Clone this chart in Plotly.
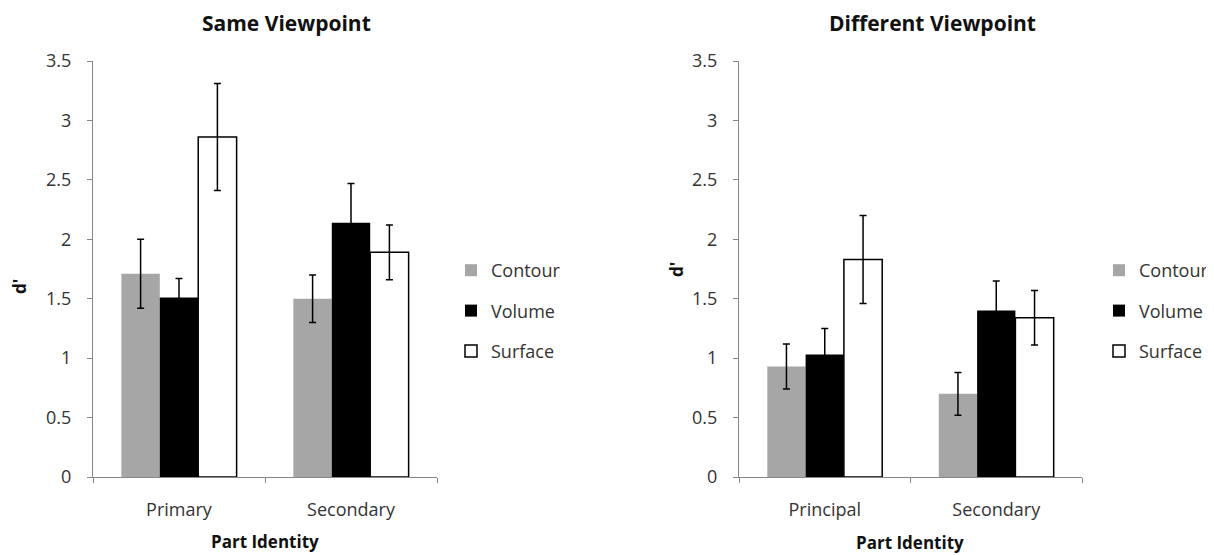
import plotly.graph_objects as go

# ---- data ----
series = ["Contour", "Volume", "Surface"]
same_categories = ["Primary", "Secondary"]
diff_categories = ["Principal", "Secondary"]

same_contour = [1.71, 1.50]
same_volume = [1.51, 2.14]
same_surface = [2.86, 1.89]
same_contour_err = [0.29, 0.20]
same_volume_err = [0.16, 0.33]
same_surface_err = [0.45, 0.23]

diff_contour = [0.93, 0.70]
diff_volume = [1.03, 1.40]
diff_surface = [1.83, 1.34]
diff_contour_err = [0.19, 0.18]
diff_volume_err = [0.22, 0.25]
diff_surface_err = [0.37, 0.23]

y_ticks = [0, 0.5, 1, 1.5, 2, 2.5, 3, 3.5]
y_tick_labels = ["0", "0.5", "1", "1.5", "2", "2.5", "3", "3.5"]

panel_titles = ["Same Viewpoint", "Different Viewpoint"]
x_title = "Part Identity"
y_title = "d'"

FONT = "Open Sans"
styles = {
    "Contour": dict(color="#a6a6a6", line=dict(color="#a6a6a6", width=0)),
    "Volume": dict(color="#000000", line=dict(color="#000000", width=0)),
    "Surface": dict(color="#ffffff", line=dict(color="#000000", width=1.5)),
}

fig = go.Figure()

def add_panel(cats, vals, errs, xa, ya, legend):
    for name, v, e in zip(series, vals, errs):
        fig.add_trace(go.Bar(
            x=cats, y=v, name=name,
            marker=styles[name],
            error_y=dict(type="data", array=e, color="#000000", thickness=1.5, width=3.5),
            xaxis=xa, yaxis=ya, legend=legend, legendgroup=legend + name,
            hoverinfo="skip",
        ))

add_panel(same_categories, [same_contour, same_volume, same_surface],
          [same_contour_err, same_volume_err, same_surface_err], "x", "y", "legend")
add_panel(diff_categories, [diff_contour, diff_volume, diff_surface],
          [diff_contour_err, diff_volume_err, diff_surface_err], "x2", "y2", "legend2")

# page has an 8px body margin; figure sized to fill the rest of the window
OFF = 8
W, H = 1214 - OFF, 555 - OFF
def px_x(p): return (p - OFF) / W
def px_y(p): return 1 - (p - OFF) / H

axis_common_y = dict(
    range=[0, 3.5], tickvals=y_ticks, ticktext=y_tick_labels, automargin=False,
    showgrid=False, zeroline=False, showline=True, linecolor="#868686", linewidth=1,
    ticks="outside", ticklen=5, tickcolor="#868686", ticklabelstandoff=12,
    tickfont=dict(family=FONT, size=18, color="#333333"),
)
axis_common_x = dict(
    type="category", automargin=False, showgrid=False, zeroline=False,
    showline=True, linecolor="#868686", linewidth=1,
    ticks="outside", ticklen=5, tickcolor="#868686", tickson="boundaries", ticklabelstandoff=16,
    tickfont=dict(family=FONT, size=18, color="#333333"),
)

legend_common = dict(
    font=dict(family=FONT, size=18, color="#333333"),
    traceorder="grouped", tracegroupgap=14, bgcolor="rgba(0,0,0,0)",
    yanchor="top", itemclick=False, itemdoubleclick=False,
)

def txt(text, x, y, size, angle=0):
    return dict(text="<b>" + text + "</b>", x=px_x(x), y=px_y(y), xref="paper", yref="paper",
                showarrow=False, xanchor="center", yanchor="middle", textangle=angle,
                font=dict(family=FONT, size=size, color="#111111"))

fig.update_layout(
    width=W, height=H,
    margin=dict(l=0, r=0, t=0, b=0, autoexpand=False),
    paper_bgcolor="white", plot_bgcolor="white",
    barmode="group", bargap=0.33, bargroupgap=0,
    showlegend=True,
    xaxis=dict(domain=[px_x(93), px_x(437)], anchor="y", **axis_common_x),
    yaxis=dict(domain=[px_y(477), px_y(61)], anchor="x", **axis_common_y),
    xaxis2=dict(domain=[px_x(739), px_x(1082)], anchor="y2", **axis_common_x),
    yaxis2=dict(domain=[px_y(477), px_y(61)], anchor="x2", **axis_common_y),
    legend=dict(x=px_x(451), xanchor="left", y=px_y(252), **legend_common),
    legend2=dict(x=1, xanchor="right", y=px_y(252), **legend_common),
    annotations=[
        txt(panel_titles[0], 286, 23, 21),
        txt(panel_titles[1], 932, 23, 21),
        txt(x_title, 265, 541, 17),
        txt(x_title, 910, 542, 17),
        txt(y_title, 19, 287, 17, -90),
        txt(y_title, 676, 270, 17, -90),
    ],
)

fig.write_html("out.html")
